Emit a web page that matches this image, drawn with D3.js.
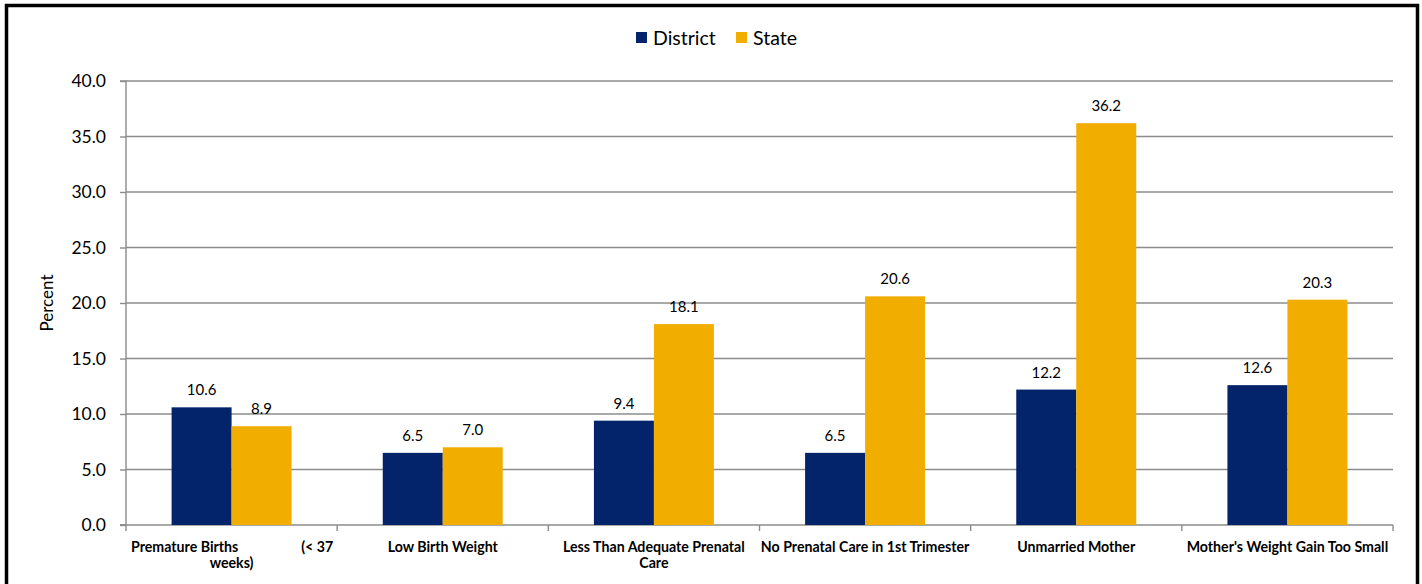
<!DOCTYPE html>
<html><head><meta charset="utf-8">
<script src="https://cdn.jsdelivr.net/npm/d3@7"></script>
<style>
html,body{margin:0;padding:0;background:#fff;}
svg{display:block;font-family:Lato,"Open Sans",sans-serif;}
</style></head>
<body>
<svg id="c" width="1422" height="584"></svg>
<script>
const categories = [
  "Premature Births (< 37 weeks)",
  "Low Birth Weight",
  "Less Than Adequate Prenatal Care",
  "No Prenatal Care in 1st Trimester",
  "Unmarried Mother",
  "Mother's Weight Gain Too Small"
];
const seriesNames = ["District", "State"];
const districtValues = [10.6, 6.5, 9.4, 6.5, 12.2, 12.6];
const stateValues = [8.9, 7.0, 18.1, 20.6, 36.2, 20.3];
const yTicks = [0, 5, 10, 15, 20, 25, 30, 35, 40];
const categoryLines = [
  [["Premature Births", "(< 37"], ["weeks)"]],
  [["Low Birth Weight"]],
  [["Less Than Adequate Prenatal"], ["Care"]],
  [["No Prenatal Care in 1st Trimester"]],
  [["Unmarried Mother"]],
  [["Mother's Weight Gain Too Small"]]
];
const colors = ["#03236A", "#F2AE00"];

const svg = d3.select("#c");
const m = {left:126, right:1393, top:81, bottom:525};

// outer frame
svg.append("rect").attr("x",6.5).attr("y",5.5).attr("width",1411).attr("height",600)
  .attr("fill","none").attr("stroke","#000").attr("stroke-width",3.5);

const x0 = d3.scaleBand().domain(categories).range([m.left, m.right]).paddingInner(0).paddingOuter(0);
const x1 = d3.scaleBand().domain(seriesNames).range([0, x0.bandwidth()]).paddingInner(0).paddingOuter(0.76);
const y = d3.scaleLinear().domain([0, 40]).range([m.bottom, m.top]);

// gridlines
svg.append("g").selectAll("line").data(yTicks.filter(d=>d>0)).join("line")
  .attr("x1", m.left).attr("x2", m.right)
  .attr("y1", d=>y(d)).attr("y2", d=>y(d))
  .attr("stroke","#8c8c8c").attr("stroke-width",1.4);

// y axis
const yAxis = d3.axisLeft(y).tickValues(yTicks).tickFormat(d3.format(".1f")).tickSize(6).tickPadding(14);
const gy = svg.append("g").attr("transform",`translate(${m.left},0)`).call(yAxis);
gy.select(".domain").attr("stroke","#8c8c8c").attr("stroke-width",1.4).attr("d",`M-6,${m.top}H0V${m.bottom}H-6`);
gy.selectAll(".tick line").attr("stroke","#8c8c8c").attr("stroke-width",1.4);
gy.selectAll(".tick text").attr("font-size",17.5).attr("fill","#000").attr("font-family","Lato, sans-serif");

// y title
svg.append("text").attr("transform","translate(53,303) rotate(-90)").attr("text-anchor","middle")
  .attr("font-size",17).attr("fill","#000").text("Percent");

// x axis
svg.append("line").attr("x1",m.left-6).attr("x2",m.right).attr("y1",m.bottom).attr("y2",m.bottom)
  .attr("stroke","#8c8c8c").attr("stroke-width",1.4);
const bounds = categories.map(c=>x0(c)).concat([m.right]);
svg.append("g").selectAll("line").data(bounds).join("line")
  .attr("x1",d=>d).attr("x2",d=>d).attr("y1",m.bottom).attr("y2",m.bottom+6)
  .attr("stroke","#8c8c8c").attr("stroke-width",1.4);

// bars
const data = categories.map((c,i)=>({cat:c, vals:[districtValues[i], stateValues[i]]}));
const groups = svg.append("g").selectAll("g").data(data).join("g")
  .attr("transform", d=>`translate(${x0(d.cat)},0)`);
groups.selectAll("rect").data(d=>d.vals.map((v,j)=>({s:seriesNames[j], v, j}))).join("rect")
  .attr("x", d=>x1(d.s)).attr("width", x1.bandwidth())
  .attr("y", d=>y(d.v)).attr("height", d=>y(0)-y(d.v))
  .attr("fill", d=>colors[d.j]);
groups.selectAll("text.val").data(d=>d.vals.map((v,j)=>({s:seriesNames[j], v, j}))).join("text")
  .attr("class","val")
  .attr("x", d=>x1(d.s)+x1.bandwidth()/2).attr("y", d=>y(d.v)-12)
  .attr("text-anchor","middle").attr("font-size",15).attr("fill","#000")
  .text(d=>d3.format(".1f")(d.v));

// category labels
const cl = svg.append("g").attr("font-size",14.2).attr("font-weight","bold").attr("fill","#000");
categories.forEach((c,i)=>{
  const bx = x0(c), bw = x0.bandwidth(), cx = bx + bw/2;
  categoryLines[i].forEach((parts,li)=>{
    const yy = m.bottom + 27 + li*16;
    if (parts.length === 2) {
      cl.append("text").attr("x", bx+5).attr("y", yy).attr("text-anchor","start").text(parts[0]);
      cl.append("text").attr("x", bx+bw-4).attr("y", yy).attr("text-anchor","end").text(parts[1]);
    } else {
      cl.append("text").attr("x", cx).attr("y", yy).attr("text-anchor","middle").text(parts[0]);
    }
  });
});

// legend
const lg = svg.append("g").attr("transform","translate(636,32)");
const items = [{n:seriesNames[0], x:0},{n:seriesNames[1], x:100}];
items.forEach((it,i)=>{
  lg.append("rect").attr("x",it.x).attr("y",0).attr("width",11).attr("height",11).attr("fill",colors[i]);
  lg.append("text").attr("x",it.x+17).attr("y",12.5).attr("font-size",19.5).attr("fill","#000").text(it.n);
});
</script>
</body></html>
